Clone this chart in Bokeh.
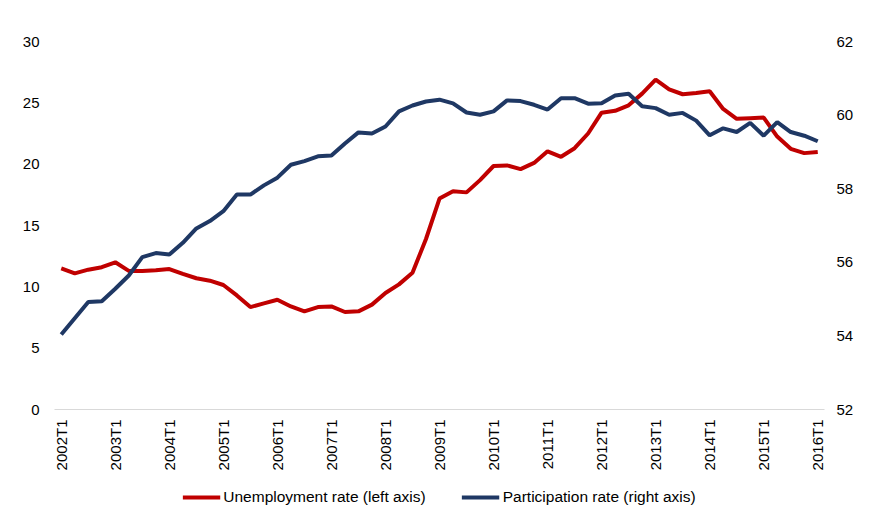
from bokeh.plotting import figure
from bokeh.models import Range1d, LinearAxis, FixedTicker, Legend, LegendItem, ColumnDataSource
from bokeh.layouts import column
from bokeh.embed import file_html
from bokeh.resources import INLINE
import math

years = list(range(2002, 2017))
quarters = [f"{y}T{q}" for y in years for q in (1, 2, 3, 4)][:57]

unemployment = [11.5, 11.1, 11.4, 11.6, 12.0, 11.3, 11.3, 11.35, 11.45, 11.05,
                10.7, 10.5, 10.15, 9.3, 8.35, 8.65, 8.95, 8.4, 8.0, 8.35,
                8.4, 7.95, 8.0, 8.55, 9.5, 10.2, 11.15, 13.9, 17.2, 17.8,
                17.7, 18.7, 19.85, 19.9, 19.6, 20.1, 21.05, 20.6, 21.3, 22.5,
                24.2, 24.35, 24.8, 25.75, 26.9, 26.1, 25.7, 25.8, 25.95, 24.5,
                23.7, 23.75, 23.8, 22.25, 21.25, 20.9, 21.0]

participation = [54.04, 54.48, 54.92, 54.94, 55.28, 55.64, 56.14, 56.25, 56.21, 56.53,
                 56.92, 57.12, 57.39, 57.84, 57.84, 58.09, 58.30, 58.65, 58.75, 58.88,
                 58.90, 59.23, 59.53, 59.50, 59.69, 60.10, 60.26, 60.37, 60.42, 60.32,
                 60.07, 60.01, 60.10, 60.40, 60.38, 60.28, 60.15, 60.46, 60.46, 60.31,
                 60.32, 60.53, 60.58, 60.24, 60.19, 60.01, 60.06, 59.85, 59.45, 59.64,
                 59.54, 59.79, 59.44, 59.81, 59.54, 59.44, 59.29]

left_ticks = [0, 5, 10, 15, 20, 25, 30]
right_ticks = [52, 54, 56, 58, 60, 62]
label_every = 4
series_names = ["Unemployment rate (left axis)", "Participation rate (right axis)"]
series_colors = ["#C00000", "#1F3864"]

FONT = "Liberation Sans"
TXT = "#000000"

src = ColumnDataSource(dict(x=list(range(len(quarters))), u=unemployment, p=participation))

p = figure(width=880, height=480, output_backend="svg", toolbar_location=None,
           x_range=Range1d(-0.5, len(quarters) - 0.5), y_range=Range1d(0, 30),
           min_border_left=54, min_border_right=56, min_border_top=41, min_border_bottom=71)
p.extra_y_ranges = {"right": Range1d(52, 62)}
p.outline_line_color = None
p.xgrid.visible = False
p.ygrid.visible = False
p.background_fill_color = "white"
p.border_fill_color = "white"

p.line("x", "u", source=src, line_color=series_colors[0], line_width=4)
p.line("x", "p", source=src, y_range_name="right", line_color=series_colors[1], line_width=4)

# x axis
xa = p.xaxis[0]
tick_idx = list(range(0, len(quarters), label_every))
xa.ticker = FixedTicker(ticks=tick_idx)
xa.major_label_overrides = {i: quarters[i] for i in tick_idx}
xa.major_label_orientation = math.pi / 2
xa.axis_line_color = "#D9D9D9"
xa.axis_line_width = 1
xa.major_tick_line_color = None
xa.minor_tick_line_color = None
xa.major_label_text_font = FONT
xa.major_label_text_font_size = "15px"
xa.major_label_text_color = TXT
xa.major_label_standoff = 4

ya = p.yaxis[0]
ya.ticker = FixedTicker(ticks=left_ticks)
ya.axis_line_color = None
ya.major_tick_line_color = None
ya.minor_tick_line_color = None
ya.major_label_text_font = FONT
ya.major_label_text_font_size = "15px"
ya.major_label_text_color = TXT
ya.major_label_standoff = 9

ra = LinearAxis(y_range_name="right", ticker=FixedTicker(ticks=right_ticks))
ra.axis_line_color = None
ra.major_tick_line_color = None
ra.minor_tick_line_color = None
ra.major_label_text_font = FONT
ra.major_label_text_font_size = "15px"
ra.major_label_text_color = TXT
ra.major_label_standoff = 6
p.add_layout(ra, "right")

# legend strip (series drawn outside its visible range, only the legend shows)
lg = figure(width=880, height=34, output_backend="svg", toolbar_location=None,
            x_range=Range1d(-3, -2), y_range=Range1d(0, 100),
            x_axis_location=None, y_axis_location=None,
            min_border_left=0, min_border_right=0, min_border_top=0, min_border_bottom=0)
lg.outline_line_color = None
lg.xgrid.visible = False
lg.ygrid.visible = False
lg.border_fill_color = "white"
lg.background_fill_color = "white"
d1 = lg.line("x", "u", source=src, line_color=series_colors[0], line_width=4)
d2 = lg.line("x", "p", source=src, line_color=series_colors[1], line_width=4)

legend = Legend(items=[LegendItem(label=series_names[0], renderers=[d1]),
                       LegendItem(label=series_names[1], renderers=[d2])],
                orientation="horizontal", location="center")
legend.label_text_font = FONT
legend.label_text_font_size = "15.5px"
legend.label_text_color = TXT
legend.glyph_width = 38
legend.label_standoff = 3
legend.spacing = 36
legend.border_line_color = None
legend.background_fill_alpha = 0
legend.margin = 0
legend.padding = 4
lg.add_layout(legend, "center")

layout = column(p, lg, spacing=0)
open("out.html", "w").write(file_html(layout, INLINE))
